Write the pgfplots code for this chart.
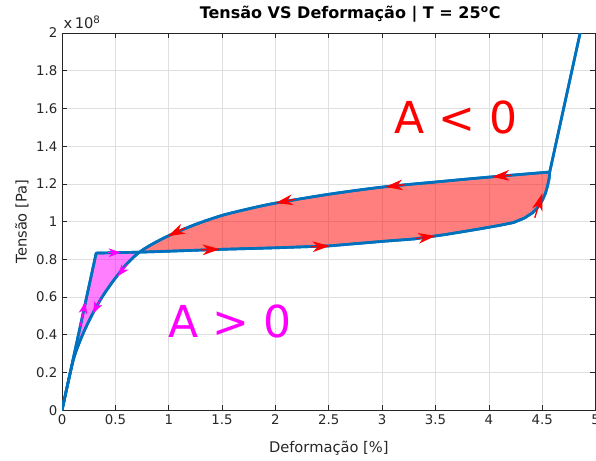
\documentclass[border=0pt]{standalone}
\usepackage{fontspec}
\setmainfont{DejaVu Sans}
\usepackage{pgfplots}
\pgfplotsset{compat=1.18}
\usepgfplotslibrary{fillbetween}
\usetikzlibrary{arrows.meta}

\definecolor{mblue}{RGB}{0,114,189}
\definecolor{axgray}{RGB}{38,38,38}
\definecolor{gridgray}{RGB}{223,223,223}
\definecolor{mag}{RGB}{255,0,255}

% red arrows along the big loop: tail x, tail y, u, v
\pgfplotstableread{
x     y      u      v
1.30  0.850  0.18   0.004
2.33  0.866  0.18   0.005
3.32  0.910  0.18   0.014
4.43  1.020  0.07   0.130
4.21  1.246  -0.18  -0.009
3.21  1.196  -0.18  -0.012
2.18  1.118  -0.18  -0.020
1.15  0.966  -0.16  -0.044
}\redarrows

\pgfplotstableread{
x     y      u      v
0.43  0.835  0.12   0.001
0.61  0.772  -0.09  -0.062
0.36  0.590  -0.07  -0.078
0.17  0.445  0.05   0.130
}\magarrows

\begin{document}
\begin{tikzpicture}
\begin{axis}[
    scale only axis,
    width=400pt, height=282.75pt,
    xmin=0, xmax=5, ymin=0, ymax=2,
    xtick={0,0.5,...,5},
    ytick={0,0.2,...,2},
    grid=major,
    major grid style={gridgray, line width=0.5pt},
    axis line style={axgray, line width=0.5pt},
    tick style={axgray, line width=0.5pt},
    major tick length=4pt,
    tick align=inside,
    ticklabel style={font=\fontsize{10}{12}\selectfont, text=axgray},
    /pgf/number format/assume math mode=true,
    title={\textbf{Tensão VS Deformação | T = 25\textsuperscript{o}C}},
    title style={font=\fontsize{12}{14}\selectfont, at={(axis description cs:0.54,1)}, anchor=south, inner sep=2pt},
    xlabel={Deformação [\%]},
    ylabel={Tensão [Pa]},
    label style={font=\fontsize{11}{13}\selectfont, text=axgray},
    xlabel style={at={(axis description cs:0.5,-0.1)}, anchor=center},
    ylabel style={at={(axis description cs:-0.075,0.5)}, anchor=center},
]
% loading path: elastic line, plateau, hardening, elastic line
\addplot[name path=load, mblue, line width=2pt, line join=round] coordinates {
    (0,0) (0.32,0.833) (0.73,0.838) (1.0,0.843) (1.5,0.853) (2.0,0.861) (2.5,0.871)
    (3.0,0.895) (3.3,0.908) (3.6,0.932) (3.9,0.960) (4.1,0.980) (4.23,0.995)
    (4.33,1.018) (4.41,1.047) (4.46,1.077) (4.5,1.112) (4.53,1.150) (4.55,1.190)
    (4.565,1.230) (4.57,1.263) (4.855,2.0)
};
% unloading path
\addplot[name path=unload, mblue, line width=2pt, smooth, tension=0.5] coordinates {
    (4.57,1.263) (4.0,1.236) (3.5,1.21) (3.0,1.183) (2.5,1.145) (2.0,1.098)
    (1.75,1.068) (1.5,1.033) (1.25,0.985) (1.01,0.928) (0.85,0.882) (0.73,0.840)
    (0.65,0.800) (0.575,0.755) (0.46,0.670) (0.37,0.595) (0.29,0.515)
    (0.22,0.435) (0.16,0.355) (0.11,0.275) (0.06,0.155) (0,0)
};

% filled areas between the two paths
\addplot[draw=none, fill=red, fill opacity=0.5]
    fill between[of=load and unload, soft clip={domain=0.73:4.57}];
\addplot[draw=none, fill=mag, fill opacity=0.5]
    fill between[of=load and unload, soft clip={domain=0:0.73}];

% redraw the outlines on top of the fills
\addplot[mblue, line width=2pt, line join=round] coordinates {
    (0,0) (0.32,0.833) (0.73,0.838) (1.0,0.843) (1.5,0.853) (2.0,0.861) (2.5,0.871)
    (3.0,0.895) (3.3,0.908) (3.6,0.932) (3.9,0.960) (4.1,0.980) (4.23,0.995)
    (4.33,1.018) (4.41,1.047) (4.46,1.077) (4.5,1.112) (4.53,1.150) (4.55,1.190)
    (4.565,1.230) (4.57,1.263) (4.855,2.0)
};
\addplot[mblue, line width=2pt, smooth, tension=0.5] coordinates {
    (4.57,1.263) (4.0,1.236) (3.5,1.21) (3.0,1.183) (2.5,1.145) (2.0,1.098)
    (1.75,1.068) (1.5,1.033) (1.25,0.985) (1.01,0.928) (0.85,0.882) (0.73,0.840)
    (0.65,0.800) (0.575,0.755) (0.46,0.670) (0.37,0.595) (0.29,0.515)
    (0.22,0.435) (0.16,0.355) (0.11,0.275) (0.06,0.155) (0,0)
};

% direction arrows
\addplot[red, line width=1pt, -{Stealth[length=13pt, width=8pt, inset=4pt]},
    quiver={u=\thisrow{u}, v=\thisrow{v}}] table[x=x, y=y] {\redarrows};
\addplot[mag, line width=0.8pt, -{Stealth[length=9pt, width=6.5pt, inset=2.5pt]},
    quiver={u=\thisrow{u}, v=\thisrow{v}}] table[x=x, y=y] {\magarrows};

\node[red, font=\fontsize{33}{36}\selectfont] at (axis cs:3.69,1.55) {A < 0};
\node[mag, font=\fontsize{33}{36}\selectfont] at (axis cs:1.575,0.47) {A > 0};
\end{axis}
\node[anchor=south west, inner sep=0pt, text=axgray, font=\fontsize{11}{13}\selectfont]
    at ([xshift=1pt, yshift=3pt]current axis.north west) {x\,10\textsuperscript{8}};
\pgfresetboundingbox
\useasboundingbox ([xshift=-46.5pt, yshift=-37.5pt]current axis.south west)
    rectangle ([xshift=0.3pt, yshift=24.75pt]current axis.north east);
\end{tikzpicture}
\end{document}
